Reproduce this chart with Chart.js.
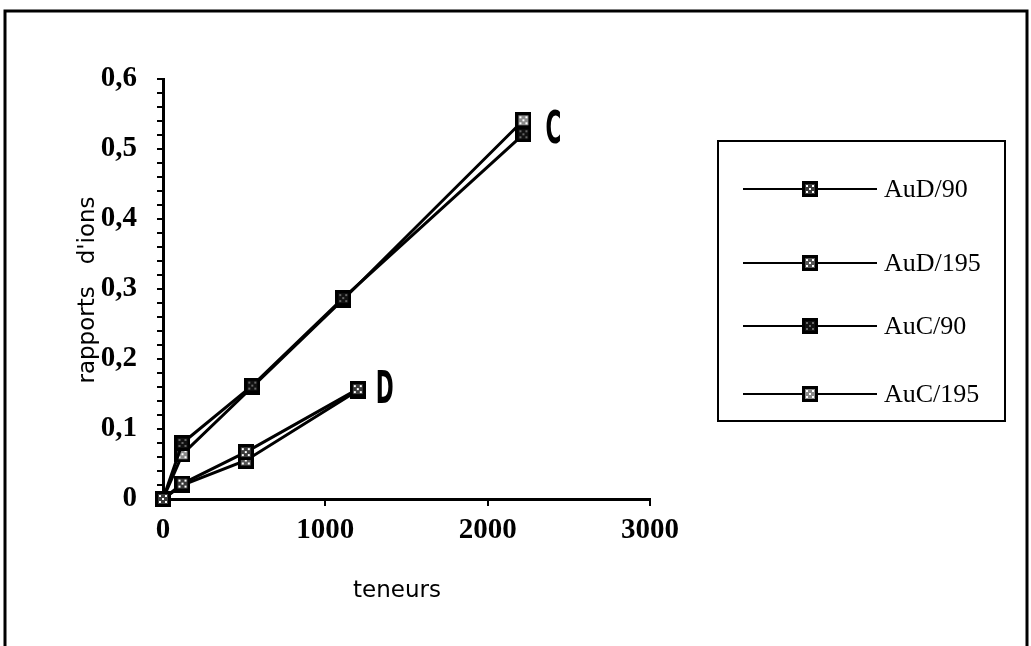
<!DOCTYPE html>
<html>
<head>
<meta charset="utf-8">
<script src="https://cdn.jsdelivr.net/npm/chart.js@4"></script>
<style>
  html, body { margin: 0; padding: 0; background: #fff; }
  #wrap { width: 1031px; height: 646px; position: relative; }
</style>
</head>
<body>
<div id="wrap"><canvas id="c" width="1031" height="646"></canvas></div>
<script>
// Ion ratio vs. content, two sample families (C and D), two masses each
const seriesLabels = ['AuD/90', 'AuD/195', 'AuC/90', 'AuC/195'];

const teneursD = [0, 120, 510, 1200];
const auD90    = [0, 0.022, 0.067, 0.157];
const auD195   = [0, 0.020, 0.055, 0.155];

const teneursC = [0, 120, 550, 1110, 2220];
const auC90    = [0, 0.080, 0.162, 0.287, 0.521];
const auC195   = [0, 0.064, 0.160, 0.285, 0.541];

const xTickLabels = ['0', '1000', '2000', '3000'];
const yTickLabels = ['0', '0,1', '0,2', '0,3', '0,4', '0,5', '0,6'];

const groupLabels = ['C', 'D'];
const xTitle = 'teneurs';
const yTitle = 'rapports   d\'ions';

// Square marker with a black border and a light dotted core
function makeMarker(shade) {
  const s = 16;
  const cv = document.createElement('canvas');
  cv.width = s; cv.height = s;
  const g = cv.getContext('2d');
  g.fillStyle = '#000';
  g.fillRect(0, 0, s, s);
  g.fillStyle = shade.core;
  g.fillRect(3, 3, s - 6, s - 6);
  g.fillStyle = shade.dot;
  const dots = [[4,4],[10,4],[4,10],[10,10],[7,7]];
  dots.forEach(([x, y]) => g.fillRect(x, y, 2, 2));
  return cv;
}
const markers = [
  makeMarker({ core: '#3a3a3a', dot: '#ffffff' }),
  makeMarker({ core: '#555555', dot: '#ffffff' }),
  makeMarker({ core: '#111111', dot: '#666666' }),
  makeMarker({ core: '#8a8a8a', dot: '#ffffff' })
];

function pts(xs, ys) { return xs.map((x, i) => ({ x: x, y: ys[i] })); }

const seriesData = [pts(teneursD, auD90), pts(teneursD, auD195), pts(teneursC, auC90), pts(teneursC, auC195)];

const datasets = seriesData.map((d, i) => ({
  label: seriesLabels[i],
  data: d,
  borderColor: '#000',
  borderWidth: 3,
  pointStyle: markers[i],
  pointRadius: 8,
  showLine: true,
  fill: false,
  tension: 0,
  clip: false
}));

const serif = '"Liberation Serif", "Times New Roman", serif';
const sans = '"DejaVu Sans", Verdana, sans-serif';

const decor = {
  id: 'decor',
  afterDraw(chart) {
    const ctx = chart.ctx;
    const xs = chart.scales.x, ys = chart.scales.y;
    ctx.save();

    // outer frame
    ctx.strokeStyle = '#000';
    ctx.lineWidth = 3;
    ctx.beginPath();
    ctx.moveTo(5, 646);
    ctx.lineTo(5, 11);
    ctx.lineTo(1027, 11);
    ctx.lineTo(1027, 646);
    ctx.stroke();

    // axis titles
    ctx.fillStyle = '#000';
    ctx.font = '23px ' + sans;
    ctx.textAlign = 'center';
    ctx.textBaseline = 'middle';
    ctx.fillText(xTitle, 397, 591);
    ctx.save();
    ctx.translate(88, 290);
    ctx.rotate(-Math.PI / 2);
    ctx.fillText(yTitle, 0, 0);
    ctx.restore();

    // group labels beside the last point of each family
    ctx.font = 'bold 30px "Liberation Sans Narrow", "DejaVu Sans Condensed", sans-serif';
    ctx.textAlign = 'left';
    const cx = xs.getPixelForValue(teneursC[teneursC.length - 1]) + 22;
    const cy = ys.getPixelForValue((auC90[auC90.length - 1] + auC195[auC195.length - 1]) / 2) + 4;
    ctx.save();
    ctx.translate(cx, cy);
    ctx.scale(0.8, 1.5);
    ctx.fillText(groupLabels[0], 0, 0);
    ctx.restore();
    const dx = xs.getPixelForValue(teneursD[teneursD.length - 1]) + 18;
    const dy = ys.getPixelForValue(auD90[auD90.length - 1]) + 2;
    ctx.save();
    ctx.translate(dx, dy);
    ctx.scale(0.8, 1.5);
    ctx.fillText(groupLabels[1], 0, 0);
    ctx.restore();

    // legend box
    const bx = 718, by = 141, bw = 287, bh = 280;
    ctx.lineWidth = 2;
    ctx.strokeRect(bx, by, bw, bh);
    const rows = [189, 263, 326, 394];
    ctx.font = '26px ' + serif;
    rows.forEach((ry, i) => {
      ctx.lineWidth = 2;
      ctx.beginPath();
      ctx.moveTo(743, ry);
      ctx.lineTo(877, ry);
      ctx.stroke();
      const m = markers[i];
      ctx.drawImage(m, 810 - m.width / 2, ry - m.height / 2);
      ctx.textAlign = 'left';
      ctx.fillText(seriesLabels[i], 884, ry + 1);
    });
    ctx.restore();
  }
};

new Chart(document.getElementById('c'), {
  type: 'scatter',
  data: { datasets: datasets },
  options: {
    responsive: false,
    animation: false,
    devicePixelRatio: 1,
    layout: { padding: { left: 0, right: 381, top: 79, bottom: 0 } },
    plugins: { legend: { display: false }, tooltip: { enabled: false } },
    scales: {
      x: {
        type: 'linear',
        min: 0, max: 3000,
        afterFit(s) { s.height = 147; },
        border: { display: true, color: '#000', width: 3 },
        grid: { display: true, drawOnChartArea: false, drawTicks: true, tickLength: 7, color: '#000', lineWidth: 2 },
        ticks: {
          stepSize: 1000,
          autoSkip: false,
          maxRotation: 0,
          color: '#000',
          padding: 7,
          font: { family: serif, size: 29, weight: 'bold' },
          callback: (v) => xTickLabels[Math.round(v / 1000)]
        }
      },
      y: {
        type: 'linear',
        min: 0, max: 0.6,
        afterFit(s) { s.width = 163; },
        border: { display: true, color: '#000', width: 3 },
        grid: { display: true, drawOnChartArea: false, drawTicks: true, tickLength: 6, color: '#000', lineWidth: 2 },
        ticks: {
          stepSize: 0.02,
          autoSkip: false,
          color: '#000',
          padding: 20,
          font: { family: serif, size: 29, weight: 'bold' },
          callback: (v) => {
            const k = Math.round(v * 50);
            return k % 5 === 0 ? yTickLabels[k / 5] : '';
          }
        }
      }
    }
  },
  plugins: [decor]
});
</script>
</body>
</html>
